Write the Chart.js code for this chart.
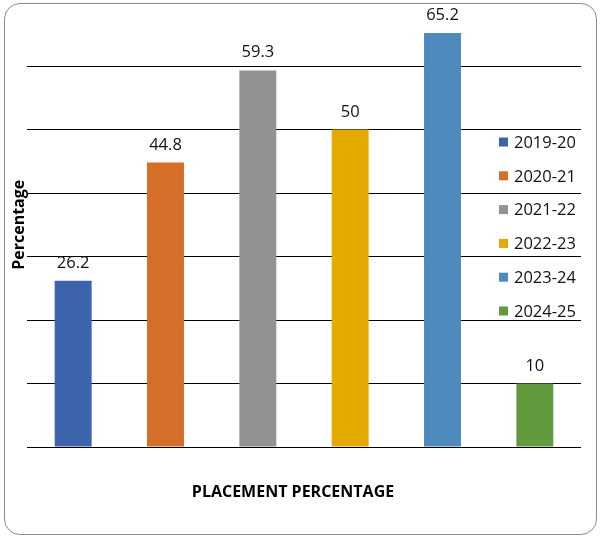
<!DOCTYPE html>
<html>
<head>
<meta charset="utf-8">
<script src="https://cdn.jsdelivr.net/npm/chart.js@4.4.1/dist/chart.umd.min.js"></script>
<style>
  html, body { margin: 0; padding: 0; background: #fff; }
  #wrap { position: relative; width: 604px; height: 540px; }
  #frame { position: absolute; left: 4px; top: 3px; width: 593px; height: 532px;
           border: 1px solid #8c8c8c; border-radius: 16px; box-sizing: border-box; }
  canvas { position: absolute; left: 0; top: 0; }
</style>
</head>
<body>
<div id="wrap">
  <div id="frame"></div>
  <canvas id="c" width="604" height="540"></canvas>
</div>
<script>
const categories = ["2019-20", "2020-21", "2021-22", "2022-23", "2023-24", "2024-25"];
const values = [26.2, 44.8, 59.3, 50, 65.2, 10];
const colors = ["#3C64AD", "#D56E28", "#929292", "#E3AB00", "#4F8ABE", "#629A3E"];
const yTicks = [0, 10, 20, 30, 40, 50, 60, 70];
const yTitle = "Percentage";
const xTitle = "PLACEMENT PERCENTAGE";
const FONT = "'Open Sans', 'Liberation Sans', sans-serif";

const valueLabels = {
  id: 'valueLabels',
  afterDatasetsDraw(chart) {
    const ctx = chart.ctx;
    const meta = chart.getDatasetMeta(0);
    ctx.save();
    ctx.font = "16.5px " + FONT;
    ctx.fillStyle = "#111";
    ctx.textAlign = "center";
    ctx.textBaseline = "alphabetic";
    meta.data.forEach((bar, i) => {
      ctx.fillText(String(values[i]), bar.x, bar.y - 13);
    });
    ctx.restore();
  }
};

const insideLegend = {
  id: 'insideLegend',
  afterDraw(chart) {
    const ctx = chart.ctx;
    const area = chart.chartArea;
    ctx.save();
    ctx.font = "16.5px " + FONT;
    ctx.textBaseline = "middle";
    ctx.textAlign = "left";
    const boxX = area.right - 82;
    const startY = 142;
    const step = 33.8;
    chart.data.labels.forEach((lab, i) => {
      const y = startY + i * step;
      ctx.fillStyle = colors[i];
      ctx.fillRect(boxX, y - 4.5, 9, 9);
      ctx.fillStyle = "#111";
      ctx.fillText(lab, boxX + 15, y + 1);
    });
    ctx.restore();
  }
};

const xAxisTitle = {
  id: 'xAxisTitle',
  afterDraw(chart) {
    const ctx = chart.ctx;
    const area = chart.chartArea;
    ctx.save();
    ctx.font = "bold 16px " + FONT;
    ctx.fillStyle = "#000";
    ctx.textAlign = "center";
    ctx.textBaseline = "middle";
    ctx.fillText(xTitle, area.left + (area.right - area.left) / 2 - 11, area.bottom + 45);
    ctx.restore();
  }
};

new Chart(document.getElementById('c'), {
  type: 'bar',
  data: {
    labels: categories,
    datasets: [{
      data: values,
      backgroundColor: colors,
      borderWidth: 0,
      categoryPercentage: 1.0,
      barPercentage: 0.4
    }]
  },
  options: {
    responsive: false,
    animation: false,
    devicePixelRatio: 1,
    layout: { padding: { left: 11, right: 23, top: 2.5, bottom: 93 } },
    plugins: { legend: { display: false }, tooltip: { enabled: false } },
    scales: {
      x: {
        display: false
      },
      y: {
        min: 0, max: 70,
        afterBuildTicks(scale) { scale.ticks = yTicks.map(v => ({ value: v })); },
        grid: { drawTicks: false, lineWidth: 1,
                color: ctx => ctx.tick && ctx.tick.value === 70 ? 'rgba(0,0,0,0)' : '#000' },
        border: { display: false },
        ticks: { display: false },
        title: { display: true, text: yTitle, color: "#000",
                 font: { family: FONT, size: 16, weight: 'bold', lineHeight: 1.0 },
                 padding: { top: 0, bottom: 0 } }
      }
    }
  },
  plugins: [valueLabels, insideLegend, xAxisTitle]
});
</script>
</body>
</html>
